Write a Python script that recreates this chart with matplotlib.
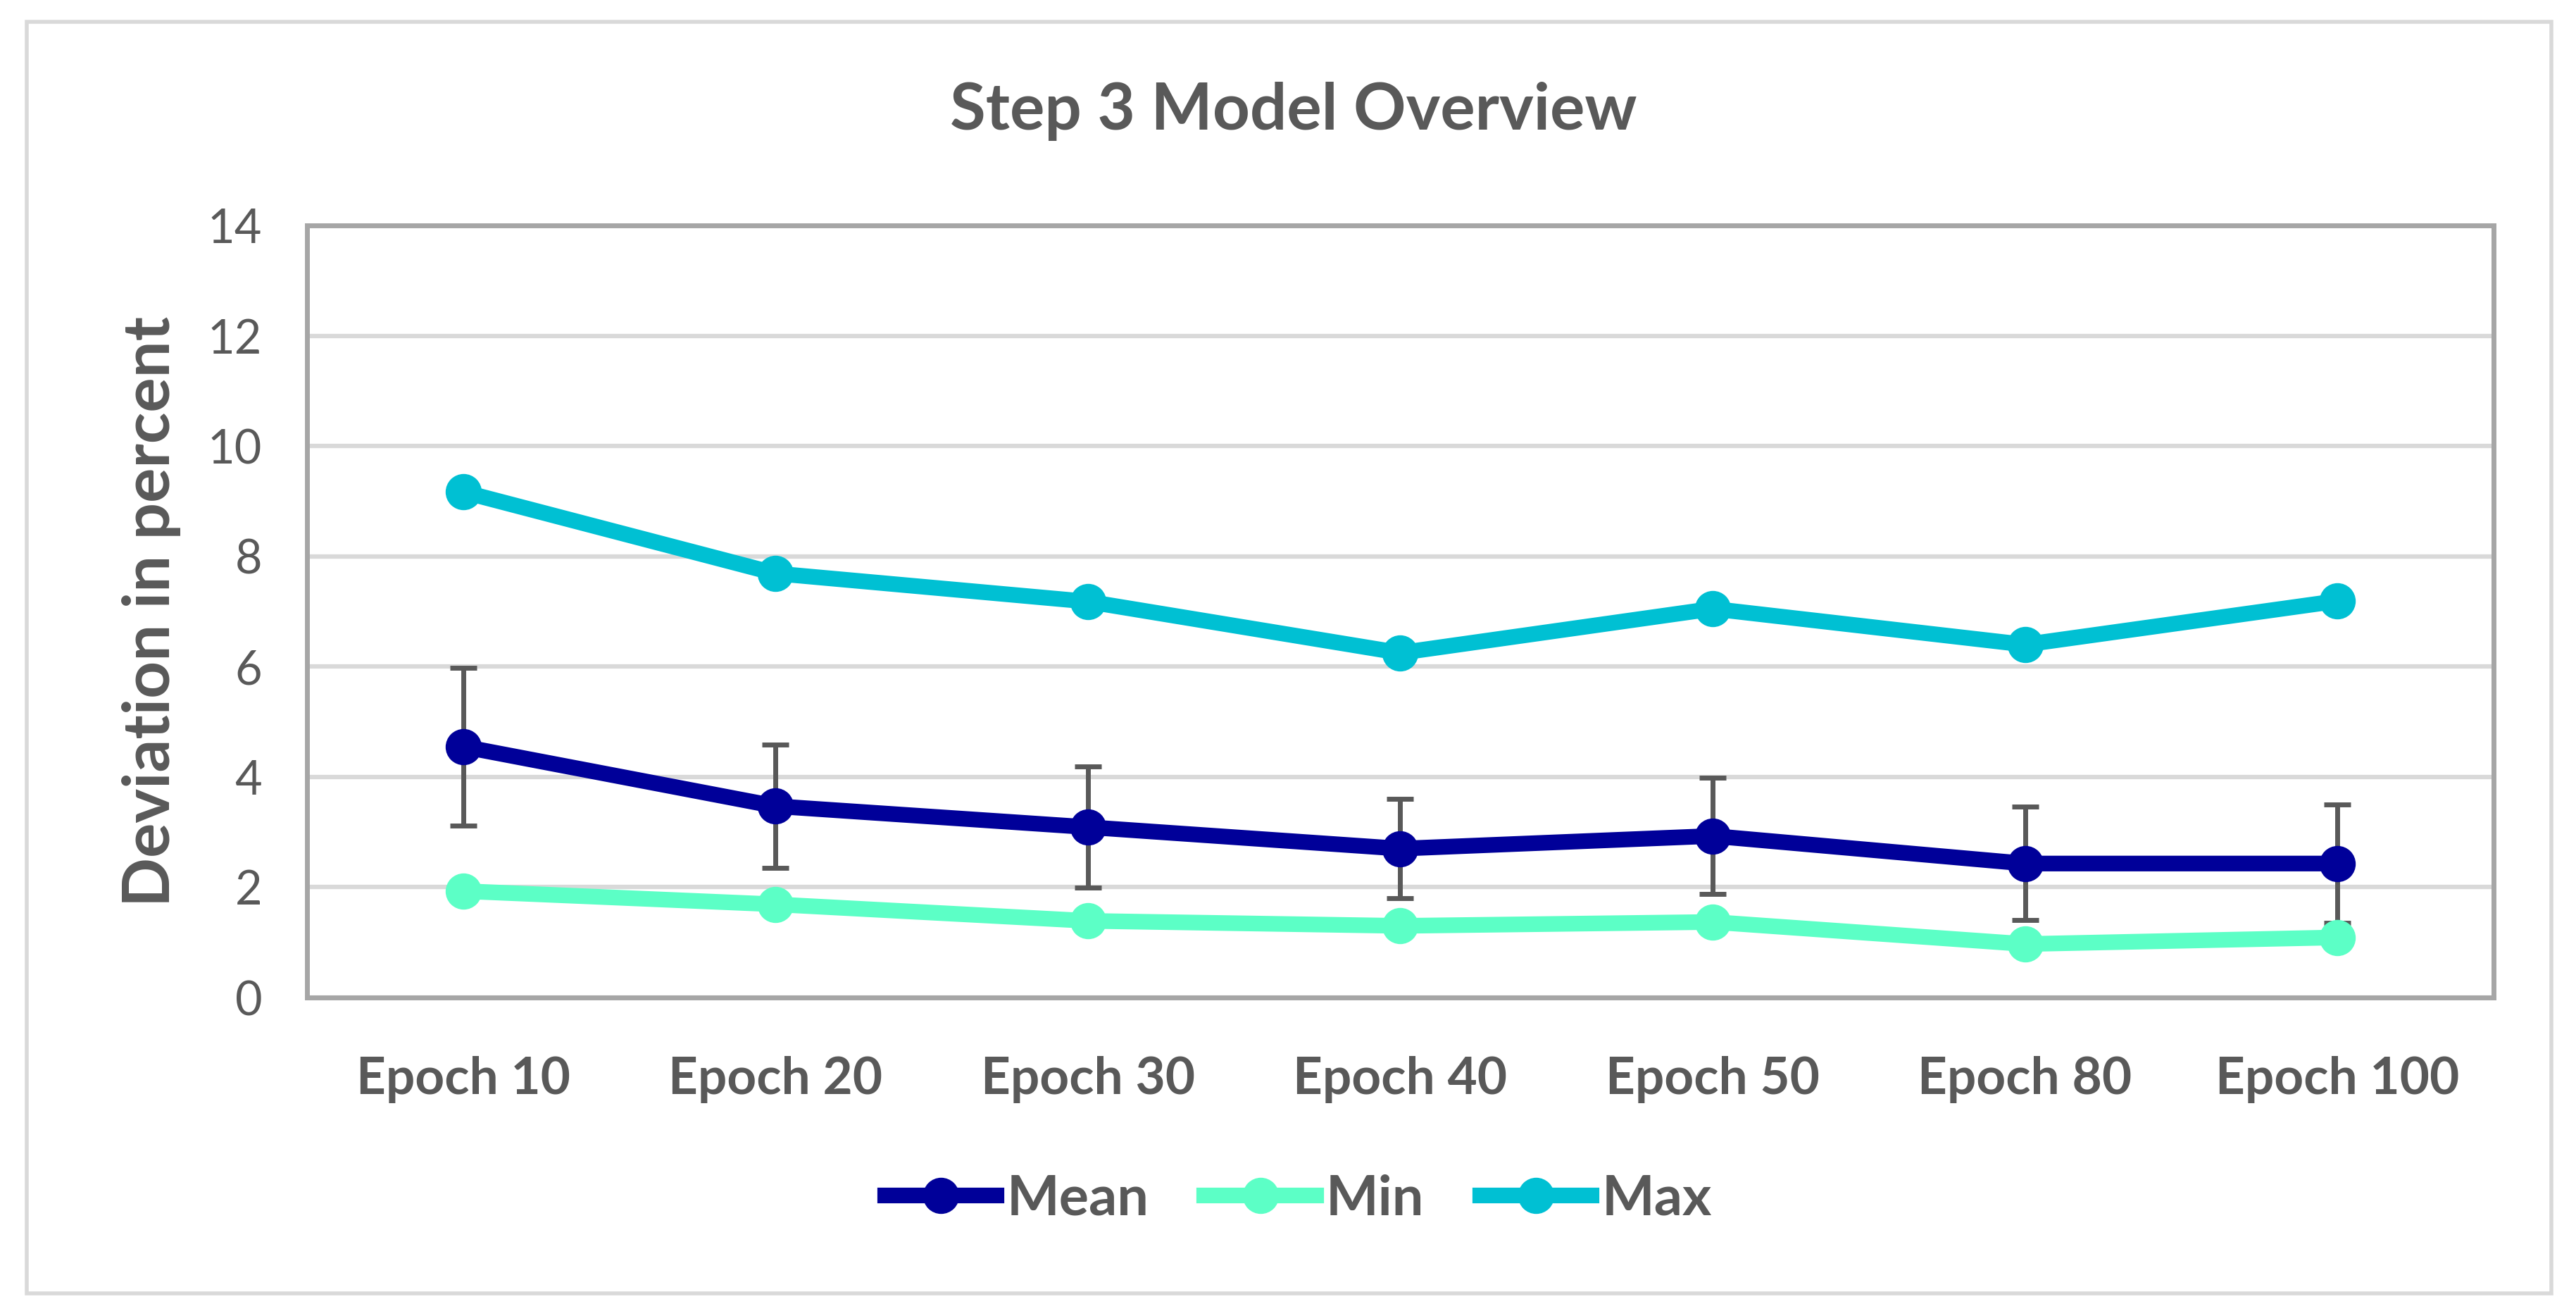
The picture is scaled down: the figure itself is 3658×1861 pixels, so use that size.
import matplotlib
matplotlib.use("Agg")
import matplotlib.pyplot as plt
from matplotlib.patches import Rectangle

#==============================================================================
# Data
#==============================================================================
epochs = ["Epoch 10", "Epoch 20", "Epoch 30", "Epoch 40", "Epoch 50", "Epoch 80", "Epoch 100"]
mean_vals = [4.55, 3.47, 3.09, 2.70, 2.93, 2.43, 2.43]
mean_err = [1.43, 1.12, 1.10, 0.90, 1.05, 1.03, 1.07]
min_vals = [1.93, 1.69, 1.39, 1.30, 1.37, 0.97, 1.09]
max_vals = [9.17, 7.69, 7.18, 6.25, 7.05, 6.40, 7.19]

#==============================================================================
# Style
#==============================================================================
plt.rcParams['font.family'] = ['Lato', 'DejaVu Sans']
txt = '#595959'
c_mean = '#000099'
c_min = '#5CFFC6'
c_max = '#00C0D3'
lw = 16
ms = 36

fig = plt.figure(figsize=(36.58, 18.61), dpi=100)
ax = fig.add_axes([0.1192, 0.2391, 0.8488, 0.5889])

x = list(range(len(epochs)))
ax.errorbar(x, mean_vals, yerr=mean_err, fmt='none', ecolor=txt, elinewidth=5,
            capsize=14, capthick=5, zorder=2)
ax.plot(x, mean_vals, color=c_mean, lw=lw, marker='o', ms=ms, label='Mean', zorder=3)
ax.plot(x, min_vals, color=c_min, lw=lw, marker='o', ms=ms, label='Min', zorder=4)
ax.plot(x, max_vals, color=c_max, lw=lw, marker='o', ms=ms, label='Max', zorder=5)

ax.set_xlim(-0.5, len(epochs) - 0.5)
ax.set_ylim(0, 14)
ax.set_yticks(range(0, 15, 2))
ax.set_xticks(x)
ax.set_xticklabels(epochs, fontsize=52.5, fontweight='bold', color=txt)
ax.tick_params(axis='y', labelsize=48, colors=txt, length=0, pad=46)
ax.tick_params(axis='x', length=0, pad=60)
ax.yaxis.grid(True, color='#D9D9D9', lw=4.5)
ax.set_axisbelow(True)
for s in ax.spines.values():
    s.set_color('#A6A6A6')
    s.set_linewidth(5)

fig.text(0.0587, 0.5336, 'Deviation in percent', rotation=90, ha='center', va='center',
         fontsize=66.5, fontweight='bold', color=txt)
fig.text(0.502, 0.915, 'Step 3 Model Overview', ha='center', va='center',
         fontsize=66.5, fontweight='bold', color=txt)

leg = fig.legend(loc='center', bbox_to_anchor=(0.504, 0.085), ncol=3, frameon=False,
                 handlelength=2.0, handletextpad=0.18, columnspacing=1.0,
                 prop={'size': 57, 'weight': 'bold'})
for t in leg.get_texts():
    t.set_color(txt)

# outer chart border
fig.patches.append(Rectangle((0.0105, 0.0135), 0.980, 0.97, transform=fig.transFigure,
                             fill=False, edgecolor='#D9D9D9', lw=4))

fig.savefig('out.png', dpi=100, facecolor='white')
